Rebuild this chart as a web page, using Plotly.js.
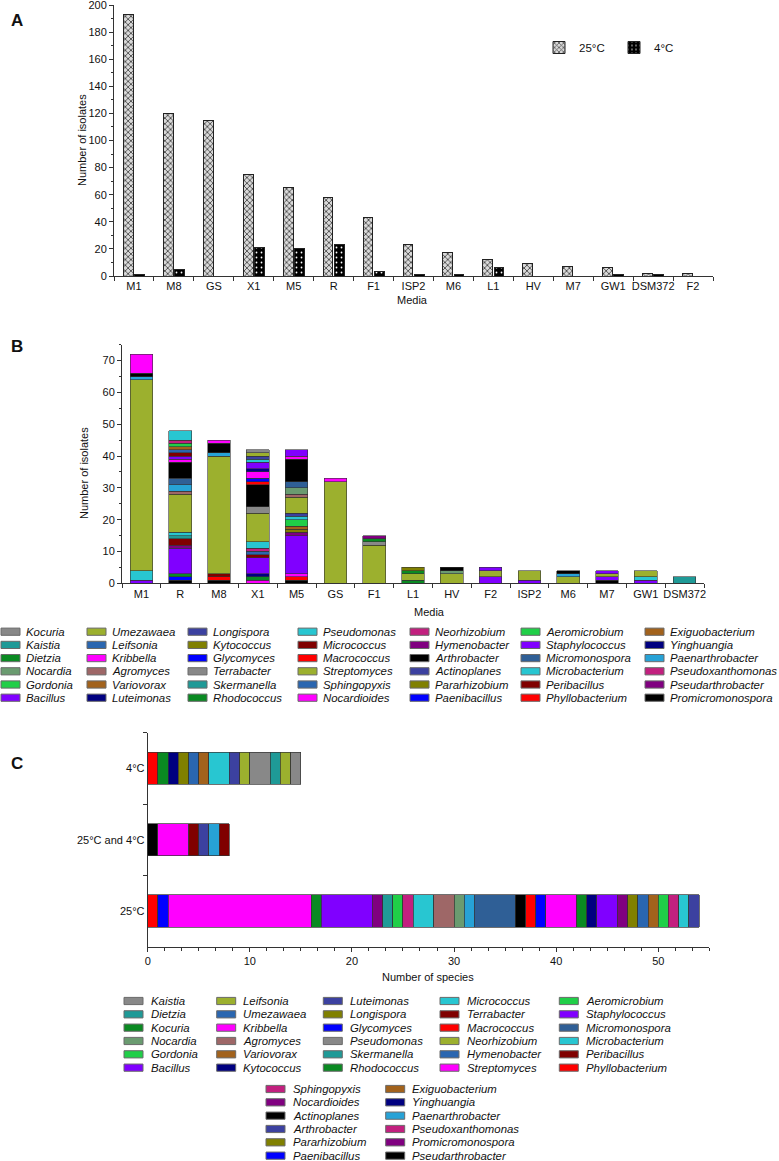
<!DOCTYPE html>
<html><head><meta charset="utf-8">
<script src="https://cdn.plot.ly/plotly-3.0.1.min.js"></script>
<style>html,body{margin:0;padding:0;background:#fff}#chart{width:779px;height:1161px}</style>
</head><body><div id="chart"></div>
<script>
// ---------------- Panel A data ----------------
const mediaA = ["M1","M8","GS","X1","M5","R","F1","ISP2","M6","L1","HV","M7","GW1","DSM372","F2"];
const isolates25C = [193,120,115,75,65,58,43,23,17,12,9,7,6,2,2];
const isolates4C  = [1,5,0,21,20,23,3,1,1,6,0,0,1,1,0];

// ---------------- Panel B data ----------------
const mediaB = ["M1","R","M8","X1","M5","GS","F1","L1","HV","F2","ISP2","M6","M7","GW1","DSM372"];
// legend order (column by column)
const generaB = ["Kocuria","Kaistia","Dietzia","Nocardia","Gordonia","Bacillus",
  "Umezawaea","Leifsonia","Kribbella","Agromyces","Variovorax","Luteimonas",
  "Longispora","Kytococcus","Glycomyces","Terrabacter","Skermanella","Rhodococcus",
  "Pseudomonas","Micrococcus","Macrococcus","Streptomyces","Sphingopyxis","Nocardioides",
  "Neorhizobium","Hymenobacter","Arthrobacter","Actinoplanes","Pararhizobium","Paenibacillus",
  "Aeromicrobium","Staphylococcus","Micromonospora","Microbacterium","Peribacillus","Phyllobacterium",
  "Exiguobacterium","Yinghuangia","Paenarthrobacter","Pseudoxanthomonas","Pseudarthrobacter","Promicromonospora"];
// composition of each bar, bottom to top: [genus, isolates]
const compM1 = [["Bacillus",1],["Microbacterium",3],["Streptomyces",60],["Paenarthrobacter",1],["Arthrobacter",1],["Nocardioides",6]];
const compR = [["Promicromonospora",1],["Paenibacillus",1],["Rhodococcus",1],["Bacillus",8],["Pseudarthrobacter",1],["Peribacillus",2],["Skermanella",1],["Microbacterium",1],["Streptomyces",12],["Agromyces",1],["Paenarthrobacter",2],["Micromonospora",2],["Arthrobacter",5],["Nocardioides",1],["Staphylococcus",1],["Micrococcus",1],["Sphingopyxis",1],["Exiguobacterium",1],["Aeromicrobium",1],["Pseudoxanthomonas",1],["Pseudomonas",3]];
const compM8 = [["Promicromonospora",1],["Phyllobacterium",1],["Peribacillus",1],["Streptomyces",37],["Paenarthrobacter",1],["Arthrobacter",3],["Nocardioides",1]];
const compX1 = [["Nocardioides",1],["Rhodococcus",1],["Yinghuangia",1],["Bacillus",5],["Peribacillus",1],["Sphingopyxis",1],["Pseudoxanthomonas",1],["Microbacterium",2],["Streptomyces",9],["Terrabacter",2],["Arthrobacter",7],["Phyllobacterium",1],["Paenibacillus",1],["Kribbella",2],["Luteimonas",1],["Staphylococcus",2],["Pseudomonas",1],["Actinoplanes",1],["Umezawaea",1],["Kocuria",1]];
const compM5 = [["Promicromonospora",1],["Phyllobacterium",1],["Nocardioides",1],["Bacillus",12],["Hymenobacter",1],["Kytococcus",1],["Exiguobacterium",1],["Aeromicrobium",2],["Microbacterium",1],["Longispora",1],["Streptomyces",5],["Agromyces",1],["Nocardia",2],["Micromonospora",2],["Arthrobacter",7],["Kribbella",1],["Staphylococcus",2]];
const compGS = [["Streptomyces",32],["Nocardioides",1]];
const compF1 = [["Streptomyces",12],["Terrabacter",1],["Rhodococcus",1],["Hymenobacter",1]];
const compL1 = [["Dietzia",1],["Streptomyces",2],["Rhodococcus",1],["Kytococcus",1]];
const compHV = [["Streptomyces",3],["Nocardia",1],["Arthrobacter",1]];
const compF2 = [["Bacillus",2],["Streptomyces",2],["Staphylococcus",1]];
const compISP2 = [["Bacillus",1],["Streptomyces",3]];
const compM6 = [["Streptomyces",2],["Paenarthrobacter",1],["Arthrobacter",1]];
const compM7 = [["Arthrobacter",1],["Bacillus",1],["Streptomyces",1],["Staphylococcus",1]];
const compGW1 = [["Bacillus",1],["Microbacterium",1],["Streptomyces",2]];
const compDSM372 = [["Kaistia",2]];

// ---------------- Panel C data ----------------
const groupsC = ["25°C","25°C and 4°C","4°C"];
const generaC = ["Kaistia","Dietzia","Kocuria","Nocardia","Gordonia","Bacillus",
  "Leifsonia","Umezawaea","Kribbella","Agromyces","Variovorax","Kytococcus",
  "Luteimonas","Longispora","Glycomyces","Pseudomonas","Skermanella","Rhodococcus",
  "Micrococcus","Terrabacter","Macrococcus","Neorhizobium","Hymenobacter","Streptomyces",
  "Aeromicrobium","Staphylococcus","Micromonospora","Microbacterium","Peribacillus","Phyllobacterium",
  "Sphingopyxis","Nocardioides","Actinoplanes","Arthrobacter","Pararhizobium","Paenibacillus",
  "Exiguobacterium","Yinghuangia","Paenarthrobacter","Pseudoxanthomonas","Promicromonospora","Pseudarthrobacter"];
const species25C = [["Macrococcus",1],["Glycomyces",1],["Streptomyces",14],["Kocuria",1],["Bacillus",5],["Nocardioides",1],["Dietzia",1],["Gordonia",1],["Sphingopyxis",1],["Microbacterium",2],["Agromyces",2],["Nocardia",1],["Paenarthrobacter",1],["Micromonospora",4],["Actinoplanes",1],["Phyllobacterium",1],["Paenibacillus",1],["Kribbella",3],["Rhodococcus",1],["Kytococcus",1],["Staphylococcus",2],["Promicromonospora",1],["Longispora",1],["Umezawaea",1],["Variovorax",1],["Aeromicrobium",1],["Pseudoxanthomonas",1],["Micrococcus",1],["Luteimonas",1]];
const speciesBoth = [["Pseudarthrobacter",1],["Streptomyces",3],["Terrabacter",1],["Arthrobacter",1],["Paenarthrobacter",1],["Peribacillus",1]];
const species4C = [["Phyllobacterium",1],["Rhodococcus",1],["Yinghuangia",1],["Pararhizobium",1],["Hymenobacter",1],["Exiguobacterium",1],["Microbacterium",2],["Arthrobacter",1],["Neorhizobium",1],["Pseudomonas",2],["Skermanella",1],["Leifsonia",1],["Kaistia",1]];

// colour cycle used by both legends (in legend order)
const palette = ["#888888","#1f9a97","#0a8a22","#6a9b70","#20cf48","#8000ff",
  "#9cb02e","#2a66b0","#ff00ff","#9e6767","#a2621c","#000080",
  "#3c41a0","#808000","#0000ff","#888888","#1f9a97","#0a8a22",
  "#28c6d1","#800000","#ff0000","#9cb02e","#2a66b0","#ff00ff",
  "#c2207f","#800080","#000000","#3c41a0","#808000","#0000ff",
  "#20cf48","#8000ff","#2f5f96","#28c6d1","#800000","#ff0000",
  "#a2621c","#000080","#27a2d6","#c2207f","#800080","#000000"];
const paletteC = palette.slice(0,24).concat(palette.slice(30,36), palette.slice(24,30), palette.slice(36,42));

// ---------------- helpers ----------------
const W = 779, H = 1161;
const px = v => v / W;
const py = v => 1 - v / H;
const FONT = "Liberation Sans, Arial, Helvetica, sans-serif";
const colorB = {}; generaB.forEach((g,i) => colorB[g] = palette[i]);
const colorC = {}; generaC.forEach((g,i) => colorC[g] = paletteC[i]);

const traces = [];
// Panel A
traces.push({type:'bar', name:'25°C', x: mediaA, y: isolates25C, base: 0, width: 0.245, offset: -0.262,
  xaxis:'x', yaxis:'y', legend:'legend', legendrank: 1,
  marker:{color:'#cccccc', line:{color:'#222', width:1},
    pattern:{shape:'x', fgcolor:'#4a4a4a', bgcolor:'#d9d9d9', size:4, solidity:0.4}},
  hovertemplate:'%{x}<br>25°C: %{y}<extra></extra>'});
traces.push({type:'bar', name:'4°C', x: mediaA, y: isolates4C, base: 0, width: 0.245, offset: 0.018,
  xaxis:'x', yaxis:'y', legend:'legend', legendrank: 2,
  marker:{color:'#000', line:{color:'#222', width:1},
    pattern:{shape:'.', fgcolor:'#ffffff', bgcolor:'#000000', size:5, solidity:0.1}},
  hovertemplate:'%{x}<br>4°C: %{y}<extra></extra>'});

// Panel B (stacked, bottom-to-top segments)
const compsB = [compM1,compR,compM8,compX1,compM5,compGS,compF1,compL1,compHV,compF2,compISP2,compM6,compM7,compGW1,compDSM372];
const nB = Math.max(...compsB.map(c => c.length));
for (let L = 0; L < nB; L++) {
  traces.push({type:'bar', x: mediaB, y: compsB.map(c => c[L] ? c[L][1] : null),
    customdata: compsB.map(c => c[L] ? c[L][0] : ''),
    xaxis:'x2', yaxis:'y2', width:0.585, showlegend:false,
    marker:{color: compsB.map(c => c[L] ? colorB[c[L][0]] : 'rgba(0,0,0,0)'), line:{color:'#333', width:0.6}},
    hovertemplate:'%{x}<br><i>%{customdata}</i>: %{y}<extra></extra>'});
}
// Panel C (horizontal stacked)
const compsC = [species25C, speciesBoth, species4C];
const nC = Math.max(...compsC.map(c => c.length));
for (let L = 0; L < nC; L++) {
  traces.push({type:'bar', orientation:'h', y: groupsC, x: compsC.map(c => c[L] ? c[L][1] : null),
    customdata: compsC.map(c => c[L] ? c[L][0] : ''),
    xaxis:'x3', yaxis:'y3', width:0.45, showlegend:false,
    marker:{color: compsC.map(c => c[L] ? colorC[c[L][0]] : 'rgba(0,0,0,0)'), line:{color:'#333', width:0.7}},
    hovertemplate:'%{y}<br><i>%{customdata}</i>: %{x}<extra></extra>'});
}

const axisBase = {showline:true, linecolor:'#333', linewidth:1, ticks:'outside', tickcolor:'#333', ticklen:4,
  showgrid:false, zeroline:false, tickfont:{family:FONT, size:11, color:'#111'}, fixedrange:true,
  ticklabeloverflow:'allow'};

const annotations = [];
const shapes = [];
function label(text, x, y, opts) {
  annotations.push(Object.assign({text, x: px(x), y: py(y), xref:'paper', yref:'paper', showarrow:false,
    xanchor:'center', yanchor:'middle', font:{family:FONT, size:11, color:'#111'}}, opts || {}));
}
label('<b>A</b>', 17, 21, {font:{family:FONT, size:17, color:'#111'}});
label('<b>B</b>', 17, 346, {font:{family:FONT, size:17, color:'#111'}});
label('<b>C</b>', 17, 763, {font:{family:FONT, size:17, color:'#111'}});
label('Number of isolates', 82, 140, {textangle:-90});
label('Media', 412, 300);
label('Number of isolates', 84, 473, {textangle:-90});
label('Media', 430, 612);
label('Number of species', 428, 977);

function legendBlock(names, colors, cols, rows0, dy, textOff) {
  names.forEach((g, i) => {
    const c = Math.floor(i / 6), r = i % 6;
    const x0 = cols[c], yc = rows0 + r * dy;
    shapes.push({type:'rect', xref:'paper', yref:'paper', x0:px(x0), x1:px(x0+19), y0:py(yc+3.6), y1:py(yc-3.6),
      fillcolor: colors[i], line:{color:'#6a6a6a', width:1}});
    label('<i>' + g + '</i>', x0 + textOff, yc, {xanchor:'left', font:{family:FONT, size:11.4, color:'#111'}});
  });
}
legendBlock(generaB, palette, [1,87,188,298,410,521,645], 631.7, 13.2, 22.5);
legendBlock(generaC.slice(0,30), paletteC.slice(0,30), [124,216.7,323.3,440,559.3], 1001, 13.33, 24.5);
legendBlock(generaC.slice(30), paletteC.slice(30), [266,385.7], 1089, 13.33, 24.5);

const layout = {
  width: W, height: H, margin:{l:0,r:0,t:0,b:0}, paper_bgcolor:'#fff', plot_bgcolor:'rgba(0,0,0,0)',
  barmode:'stack', font:{family:FONT, size:11, color:'#111'},
  xaxis: Object.assign({}, axisBase, {domain:[px(114), px(713)], anchor:'y', type:'category', range:[-0.5,14.5], tickson:'boundaries', tickangle:0}),
  yaxis: Object.assign({}, axisBase, {domain:[py(276), py(5)], anchor:'x', range:[0,200], tick0:0, dtick:20,
    minor:{ticks:'outside', ticklen:2, dtick:10, tickcolor:'#333'}}),
  xaxis2: Object.assign({}, axisBase, {domain:[px(122), px(704)], anchor:'y2', type:'category', range:[-0.5,14.5], tickson:'boundaries', tickangle:0}),
  yaxis2: Object.assign({}, axisBase, {domain:[py(583.3), py(344.7)], anchor:'x2', range:[0,75], dtick:10,
    minor:{ticks:'outside', ticklen:2, dtick:5, tickcolor:'#333'}}),
  xaxis3: Object.assign({}, axisBase, {domain:[px(147.7), px(709.3)], anchor:'y3', range:[0,55], dtick:10, tickangle:0,
    minor:{ticks:'outside', ticklen:3, dtick:10/6, tickcolor:'#333'}}),
  yaxis3: Object.assign({}, axisBase, {domain:[py(946.7), py(732.7)], anchor:'x3', type:'category',
    categoryorder:'array', categoryarray: groupsC, range:[-0.5,2.5], tickson:'boundaries'}),
  legend: {orientation:'h', traceorder:'normal', x: px(539), y: py(33), xanchor:'left', yanchor:'top', bgcolor:'rgba(0,0,0,0)',
    font:{family:FONT, size:11.5, color:'#111'}, entrywidth:30, entrywidthmode:'pixels', itemclick:false, itemdoubleclick:false},
  annotations, shapes, showlegend:true
};
Plotly.newPlot('chart', traces, layout, {displayModeBar:false, responsive:false});
</script></body></html>
